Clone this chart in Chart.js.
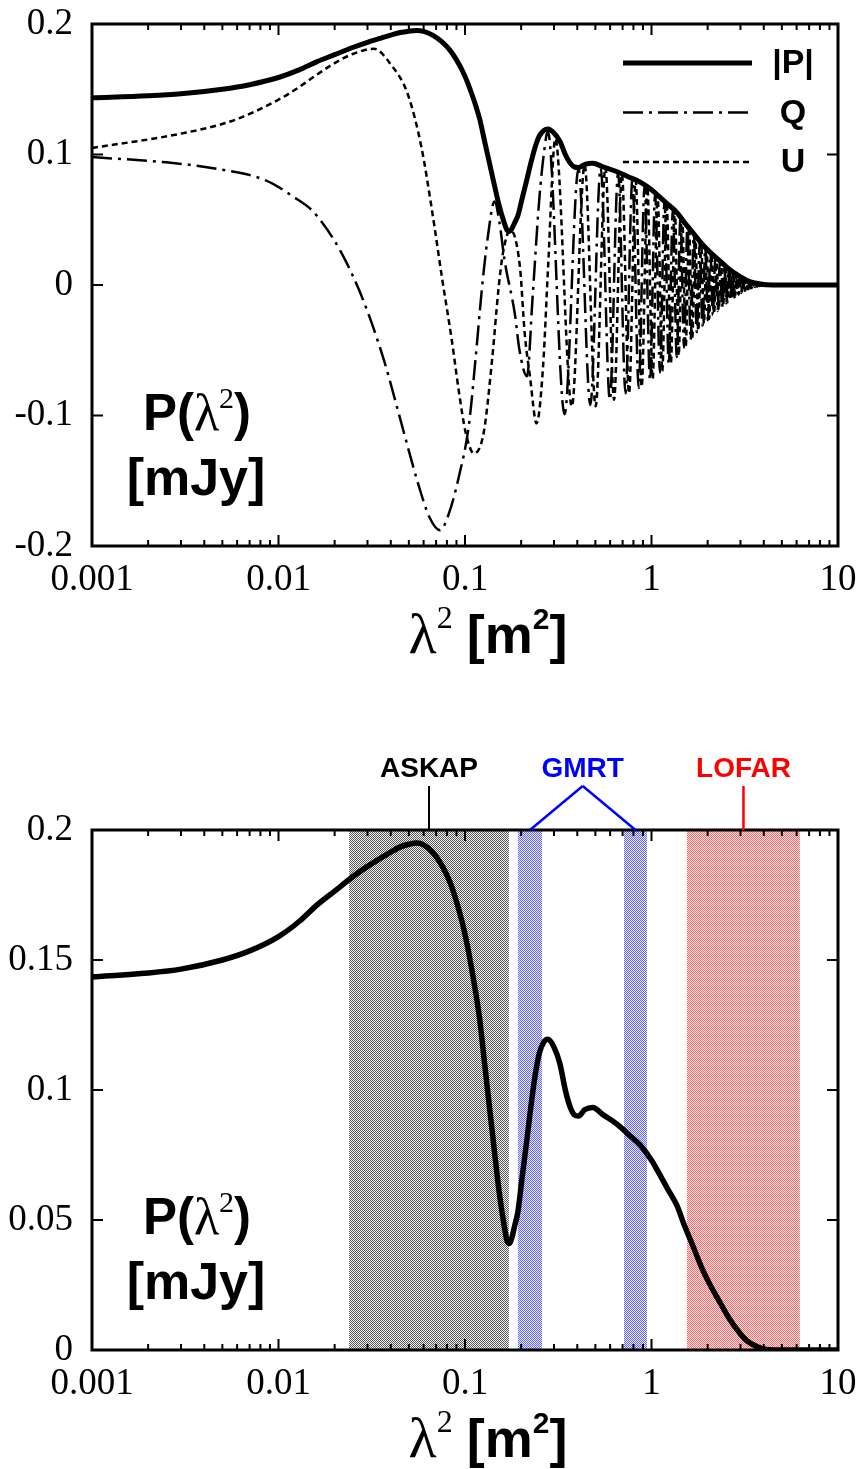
<!DOCTYPE html>
<html>
<head>
<meta charset="utf-8">
<script src="https://cdn.jsdelivr.net/npm/chart.js@4.4.1/dist/chart.umd.min.js"></script>
<style>
    body { margin: 0; background: #fff; width: 867px; height: 1469px; overflow: hidden; }
    #top-wrap { position: absolute; left: 0; top: 0; width: 867px; height: 700px; }
    #bottom-wrap { position: absolute; left: 0; top: 700px; width: 867px; height: 769px; }
</style>
</head>
<body>
<div id="top-wrap"><canvas id="topChart"></canvas></div>
<div id="bottom-wrap"><canvas id="bottomChart"></canvas></div>
<script>
//--------------------- Data (lambda^2 in m^2, signal in mJy)

//Polarised amplitude |P|
var lam2P = [0.001, 0.002, 0.003, 0.005, 0.007, 0.01, 0.013, 0.016, 0.02, 0.025,
    0.03, 0.035, 0.04, 0.045, 0.05, 0.055, 0.06, 0.067, 0.075, 0.083,
    0.09, 0.097, 0.103, 0.109, 0.115, 0.12, 0.127, 0.135, 0.144, 0.153,
    0.162, 0.168, 0.173, 0.178, 0.185, 0.192, 0.203, 0.214, 0.225, 0.237,
    0.25, 0.265, 0.278, 0.30, 0.323, 0.345, 0.364, 0.385, 0.406,
    0.44, 0.484, 0.55, 0.65, 0.75, 0.87, 1.0, 1.1, 1.22, 1.37,
    1.5, 1.66, 1.85, 2.05, 2.3, 2.56, 2.9, 3.25, 3.7, 4.13,
    5, 7, 10]
var pAmp = [0.1435, 0.145, 0.1465, 0.150, 0.1535, 0.159, 0.165, 0.171, 0.1765, 0.182,
    0.186, 0.189, 0.1915, 0.1935, 0.1945, 0.195, 0.1943, 0.1915, 0.1865, 0.180,
    0.1725, 0.164, 0.1555, 0.146, 0.136, 0.127, 0.111, 0.094, 0.076, 0.060,
    0.048, 0.042, 0.041, 0.043, 0.048, 0.053, 0.067, 0.080, 0.093, 0.105,
    0.114, 0.1185, 0.1195, 0.1165, 0.110, 0.100, 0.094, 0.0905, 0.090,
    0.0925, 0.0933, 0.0905, 0.087, 0.083, 0.0788, 0.073, 0.0678, 0.062, 0.0555,
    0.048, 0.0404, 0.032, 0.0254, 0.019, 0.0131, 0.0075, 0.0035, 0.0012, 0.0002,
    0, 0, 0]

//Stokes Q
var lam2Q = [0.001, 0.0025, 0.0047, 0.0086, 0.0119,
    0.0154, 0.0215, 0.0287, 0.037, 0.0454,
    0.056, 0.0645, 0.0735, 0.082, 0.093,
    0.105, 0.114, 0.123, 0.132, 0.144,
    0.153, 0.163, 0.185, 0.196, 0.215,
    0.23, 0.25, 0.266, 0.278, 0.342,
    0.406, 0.470, 0.534, 0.598, 0.662,
    0.726, 0.790, 0.854, 0.918, 0.982,
    1.046, 1.110, 1.174, 1.238, 1.302,
    1.366, 1.430, 1.494, 1.558, 1.622,
    1.686, 1.750, 1.814, 1.878, 1.942,
    2.006, 2.070, 2.134, 2.198, 2.262,
    2.326, 2.390, 2.454, 2.518, 2.582,
    2.646, 2.710, 2.774, 2.838, 2.902,
    2.966, 3.030, 3.094, 3.158, 3.222,
    3.286, 3.350, 3.414, 3.478, 3.542,
    3.606, 3.670, 3.734, 3.798, 3.862,
    3.926, 4.2, 10]
var qAmp = [0.098, 0.094, 0.089, 0.080, 0.068,
    0.056, 0.026, -0.013, -0.059, -0.105,
    -0.152, -0.178, -0.188, -0.175, -0.146,
    -0.107, -0.056, -0.004, 0.035, 0.064,
    0.048, 0.019, -0.022, -0.050, -0.070,
    -0.011, 0.065, 0.103, 0.118, -0.099,
    0.089, -0.092, 0.090, -0.088, 0.086,
    -0.083, 0.081, -0.079, 0.076, -0.073,
    0.070, -0.067, 0.064, -0.061, 0.058,
    -0.055, 0.052, -0.048, 0.045, -0.042,
    0.039, -0.036, 0.033, -0.031, 0.029,
    -0.027, 0.025, -0.023, 0.021, -0.020,
    0.018, -0.017, 0.015, -0.014, 0.0125,
    -0.0115, 0.0105, -0.0095, 0.0085, -0.0075,
    0.0067, -0.006, 0.0052, -0.0045, 0.0038,
    -0.0033, 0.0028, -0.0024, 0.002, -0.0017,
    0.0014, -0.0012, 0.001, -0.0008, 0.0006,
    -0.0005, 0, 0]

//Stokes U
var lam2U = [0.001, 0.003, 0.0057, 0.010, 0.013,
    0.016, 0.020, 0.025, 0.0325, 0.040,
    0.0494, 0.0585, 0.0664, 0.0752, 0.0851,
    0.0928, 0.1008, 0.1116, 0.126, 0.140,
    0.151, 0.160, 0.175, 0.197, 0.209,
    0.223, 0.242, 0.262, 0.279, 0.305,
    0.374, 0.438, 0.502, 0.566, 0.630,
    0.694, 0.758, 0.822, 0.886, 0.950,
    1.014, 1.078, 1.142, 1.206, 1.270,
    1.334, 1.398, 1.462, 1.526, 1.590,
    1.654, 1.718, 1.782, 1.846, 1.910,
    1.974, 2.038, 2.102, 2.166, 2.230,
    2.294, 2.358, 2.422, 2.486, 2.550,
    2.614, 2.678, 2.742, 2.806, 2.870,
    2.934, 2.998, 3.062, 3.126, 3.190,
    3.254, 3.318, 3.382, 3.446, 3.510,
    3.574, 3.638, 3.702, 3.766, 3.830,
    3.894, 3.958, 4.2, 10]
var uAmp = [0.105, 0.116, 0.126, 0.142, 0.152,
    0.161, 0.170, 0.177, 0.181, 0.169,
    0.146, 0.105, 0.058, 0.006, -0.043,
    -0.082, -0.113, -0.129, -0.113, -0.056,
    -0.004, 0.025, 0.042, 0.014, -0.037,
    -0.070, -0.106, -0.063, 0.014, 0.112,
    -0.093, 0.092, -0.093, 0.090, -0.088,
    0.085, -0.083, 0.080, -0.078, 0.075,
    -0.072, 0.069, -0.066, 0.063, -0.060,
    0.057, -0.054, 0.050, -0.047, 0.044,
    -0.041, 0.038, -0.035, 0.032, -0.030,
    0.028, -0.026, 0.024, -0.022, 0.021,
    -0.019, 0.0175, -0.016, 0.0148, -0.0133,
    0.012, -0.011, 0.010, -0.009, 0.008,
    -0.0072, 0.0064, -0.0056, 0.0048, -0.0042,
    0.0036, -0.003, 0.0026, -0.0022, 0.0019,
    -0.0016, 0.0013, -0.0011, 0.0009, -0.0007,
    0.0006, -0.0004, 0, 0]

//Axis ticks
var xTicks = [0.001, 0.01, 0.1, 1, 10]
var xTickLabels = ["0.001", "0.01", "0.1", "1", "10"]
var yTicksTop = [-0.2, -0.1, 0, 0.1, 0.2]
var yTickLabelsTop = ["-0.2", "-0.1", "0", "0.1", "0.2"]
var yTicksBottom = [0, 0.05, 0.1, 0.15, 0.2]
var yTickLabelsBottom = ["0", "0.05", "0.1", "0.15", "0.2"]

//Telescope coverage in lambda^2
var bandNames = ["ASKAP", "GMRT", "LOFAR"]
var bandRanges = [[[0.0239, 0.172]], [[0.192, 0.259], [0.712, 0.946]], [[1.55, 6.25]]]

//-------------------- Styles
var bandColors = ["#000000", "#0000ff", "#ff0000"]
var bandDots = ["#555555", "#6666ff", "#ff6666"]
var bandTints = ["#f4f4f4", "#e6e6ff", "#ffe6e6"]
var sans = '"Liberation Sans", Arial, sans-serif'
var serif = '"Liberation Serif", "Times New Roman", serif'

// ------------------- Functions

function toPoints(xs, ys) {
    return xs.map(function (x, i) { return {x: x, y: ys[i]} })
}

//Stipple pattern used for the coverage bands
function makeDots(ctx, dot, tint) {
    var c = document.createElement("canvas")
    c.width = 2
    c.height = 2
    var g = c.getContext("2d")
    g.fillStyle = tint
    g.fillRect(0, 0, 2, 2)
    g.fillStyle = dot
    g.fillRect(0, 0, 1, 1)
    g.fillRect(1, 1, 1, 1)
    return ctx.createPattern(c, "repeat")
}

//Draws a row of text pieces with their own fonts, centred on cx
function drawRuns(ctx, runs, cx, baseY) {
    var total = 0
    runs.forEach(function (r) {
        ctx.font = r.font
        total += ctx.measureText(r.text).width + (r.gap || 0)
    })
    var x = cx - total / 2
    ctx.textAlign = "left"
    ctx.textBaseline = "alphabetic"
    runs.forEach(function (r) {
        ctx.font = r.font
        ctx.fillStyle = r.color || "#000"
        ctx.fillText(r.text, x, baseY + (r.dy || 0))
        x += ctx.measureText(r.text).width + (r.gap || 0)
    })
}

function drawFrame(chart, yTicks) {
    var ctx = chart.ctx, a = chart.chartArea
    var xs = chart.scales.x, ys = chart.scales.y
    ctx.save()
    ctx.strokeStyle = "#000"
    ctx.lineWidth = 2
    ctx.beginPath()
    //minor and major x ticks, pointing inwards from top and bottom
    for (var d = 0.001; d < 9; d *= 10) {
        for (var k = 1; k <= 10; k++) {
            var px = xs.getPixelForValue(k * d)
            var len = (k === 1 || k === 10) ? 11 : 6
            ctx.moveTo(px, a.bottom)
            ctx.lineTo(px, a.bottom - len)
            ctx.moveTo(px, a.top)
            ctx.lineTo(px, a.top + len)
        }
    }
    yTicks.forEach(function (v) {
        var py = ys.getPixelForValue(v)
        ctx.moveTo(a.left, py)
        ctx.lineTo(a.left + 11, py)
        ctx.moveTo(a.right, py)
        ctx.lineTo(a.right - 11, py)
    })
    ctx.stroke()
    ctx.lineWidth = 3
    ctx.strokeRect(a.left, a.top, a.right - a.left, a.bottom - a.top)
    ctx.restore()
}

function drawTitles(chart) {
    var ctx = chart.ctx, a = chart.chartArea
    ctx.save()
    drawRuns(ctx, [
        {text: "P(", font: "bold 51px " + sans},
        {text: "\u03bb", font: "52px " + serif},
        {text: "2", font: "30px " + serif, dy: -22},
        {text: ")", font: "bold 51px " + sans}
    ], 197, a.bottom - 116)
    drawRuns(ctx, [{text: "[mJy]", font: "bold 52px " + sans}], 196, a.bottom - 51)
    drawRuns(ctx, [
        {text: "\u03bb", font: "58px " + serif},
        {text: "2", font: "32px " + serif, dy: -25, gap: 14},
        {text: "[m", font: "bold 54px " + sans},
        {text: "2", font: "bold 30px " + sans, dy: -24},
        {text: "]", font: "bold 54px " + sans}
    ], 488, a.bottom + 107)
    ctx.restore()
}

function drawLegend(chart) {
    var ctx = chart.ctx, a = chart.chartArea
    ctx.save()
    chart.data.datasets.forEach(function (ds, i) {
        var y = a.top + 39 + i * 49.5
        ctx.strokeStyle = "#000"
        ctx.lineWidth = ds.borderWidth
        ctx.setLineDash(ds.borderDash || [])
        ctx.beginPath()
        ctx.moveTo(623, y)
        ctx.lineTo(752, y)
        ctx.stroke()
        ctx.setLineDash([])
        ctx.fillStyle = "#000"
        ctx.font = "bold 34px " + sans
        ctx.textAlign = "center"
        ctx.textBaseline = "middle"
        ctx.fillText(ds.label, 793, y + 1)
    })
    ctx.restore()
}

function drawBands(chart) {
    var ctx = chart.ctx, a = chart.chartArea, xs = chart.scales.x
    ctx.save()
    bandRanges.forEach(function (ranges, i) {
        ctx.fillStyle = makeDots(ctx, bandDots[i], bandTints[i])
        ranges.forEach(function (r) {
            var x0 = xs.getPixelForValue(r[0]), x1 = xs.getPixelForValue(r[1])
            ctx.fillRect(x0, a.top, x1 - x0, a.bottom - a.top)
        })
    })
    ctx.restore()
}

//Telescope names with their markers pointing at the bands
function drawBandLabels(chart) {
    var ctx = chart.ctx, top = chart.chartArea.top, xs = chart.scales.x
    ctx.save()
    bandRanges.forEach(function (ranges, i) {
        var centers = ranges.map(function (r) {
            return (xs.getPixelForValue(r[0]) + xs.getPixelForValue(r[1])) / 2
        })
        var apex = centers.reduce(function (s, c) { return s + c }, 0) / centers.length
        ctx.strokeStyle = bandColors[i]
        ctx.lineWidth = i === 0 ? 2 : 2.5
        ctx.beginPath()
        centers.forEach(function (c) {
            ctx.moveTo(apex, top - 44)
            ctx.lineTo(c, top)
        })
        ctx.stroke()
        ctx.fillStyle = bandColors[i]
        ctx.font = "bold 28px " + sans
        ctx.textAlign = "center"
        ctx.textBaseline = "alphabetic"
        ctx.fillText(bandNames[i], apex, top - 53)
    })
    ctx.restore()
}

var panelDecor = {
    id: "panelDecor",
    beforeDatasetsDraw: function (chart, args, opts) {
        if (opts.bands) drawBands(chart)
    },
    afterDatasetsDraw: function (chart, args, opts) {
        drawFrame(chart, opts.yTicks)
        drawTitles(chart)
        if (opts.legend) drawLegend(chart)
        if (opts.bands) drawBandLabels(chart)
    }
}

function xScale(axisHeight) {
    return {
        type: "logarithmic",
        min: 0.001,
        max: 10,
        afterBuildTicks: function (scale) {
            scale.ticks = xTicks.map(function (v) { return {value: v} })
        },
        afterFit: function (scale) {
            scale.height = axisHeight
            scale.paddingLeft = 0
            scale.paddingRight = 0
        },
        ticks: {
            autoSkip: false,
            maxRotation: 0,
            padding: 12,
            color: "#000",
            font: {family: serif, size: 37},
            callback: function (value) { return xTickLabels[xTicks.indexOf(value)] }
        },
        grid: {display: false, drawTicks: false},
        border: {display: false}
    }
}

function yScale(min, max, ticks, labels) {
    return {
        type: "linear",
        min: min,
        max: max,
        afterBuildTicks: function (scale) {
            scale.ticks = ticks.map(function (v) { return {value: v} })
        },
        afterFit: function (scale) {
            scale.width = 92
            scale.paddingTop = 0
            scale.paddingBottom = 0
        },
        ticks: {
            padding: 19,
            color: "#000",
            font: {family: serif, size: 37},
            callback: function (value) { return labels[ticks.indexOf(value)] }
        },
        grid: {display: false, drawTicks: false},
        border: {display: false}
    }
}

function lineSet(label, xs, ys, width, dash) {
    return {
        label: label,
        data: toPoints(xs, ys),
        borderColor: "#000",
        borderWidth: width,
        borderDash: dash,
        pointRadius: 0,
        fill: false,
        cubicInterpolationMode: "monotone"
    }
}

//Upper panel: |P|, Q and U
new Chart(document.getElementById("topChart"), {
    type: "line",
    data: {
        datasets: [
            lineSet("|P|", lam2P, pAmp, 5, []),
            lineSet("Q", lam2Q, qAmp, 2.5, [20, 6, 3, 6]),
            lineSet("U", lam2U, uAmp, 2.5, [6, 4])
        ]
    },
    options: {
        animation: false,
        responsive: true,
        maintainAspectRatio: false,
        layout: {padding: {top: 24, right: 29, left: 0, bottom: 0}},
        scales: {
            x: xScale(154),
            y: yScale(-0.2, 0.2, yTicksTop, yTickLabelsTop)
        },
        plugins: {
            legend: {display: false},
            tooltip: {enabled: false},
            panelDecor: {yTicks: yTicksTop, legend: true, bands: false}
        }
    },
    plugins: [panelDecor]
})

//Lower panel: |P| with telescope coverage
new Chart(document.getElementById("bottomChart"), {
    type: "line",
    data: {
        datasets: [
            lineSet("|P|", lam2P, pAmp, 5.5, [])
        ]
    },
    options: {
        animation: false,
        responsive: true,
        maintainAspectRatio: false,
        layout: {padding: {top: 130, right: 29, left: 0, bottom: 0}},
        scales: {
            x: xScale(119),
            y: yScale(0, 0.2, yTicksBottom, yTickLabelsBottom)
        },
        plugins: {
            legend: {display: false},
            tooltip: {enabled: false},
            panelDecor: {yTicks: yTicksBottom, legend: false, bands: true}
        }
    },
    plugins: [panelDecor]
})
</script>
</body>
</html>
